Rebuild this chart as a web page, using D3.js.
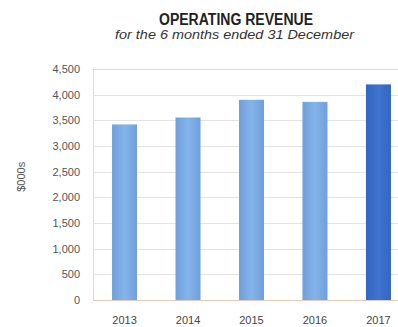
<!DOCTYPE html>
<html>
<head>
<meta charset="utf-8">
<script src="https://cdn.jsdelivr.net/npm/d3@7"></script>
<style>
  body { margin: 0; background: #fff; }
  svg { display: block; }
</style>
</head>
<body>
<svg id="chart" width="398" height="327"></svg>
<script>
const years = ['2013', '2014', '2015', '2016', '2017'];
const revenue = [3420, 3555, 3900, 3860, 4200];
const yTicks = [0, 500, 1000, 1500, 2000, 2500, 3000, 3500, 4000, 4500];

const svg = d3.select('#chart');
const width = 398, height = 327;
const margin = { top: 69, bottom: 27, left: 93 };
const fontFamily = '"Liberation Sans", Arial, sans-serif';

// gradients for the bars
const defs = svg.append('defs');
function addGrad(id, c1, c2) {
  const g = defs.append('linearGradient').attr('id', id)
    .attr('x1', '0%').attr('x2', '100%').attr('y1', '0%').attr('y2', '0%');
  g.append('stop').attr('offset', '0%').attr('stop-color', c1);
  g.append('stop').attr('offset', '50%').attr('stop-color', c2);
  g.append('stop').attr('offset', '100%').attr('stop-color', c1);
}
addGrad('lightBar', '#6f9fdc', '#85b4ea');
addGrad('darkBar', '#3465c2', '#3f74cf');

// title (condensed look via textLength)
svg.append('text')
  .attr('x', 159).attr('y', 24.5)
  .attr('textLength', 154)
  .attr('lengthAdjust', 'spacingAndGlyphs')
  .style('font-family', fontFamily)
  .style('font-size', '16px')
  .style('font-weight', 'bold')
  .style('fill', '#222')
  .text('OPERATING REVENUE');

svg.append('text')
  .attr('x', 115).attr('y', 39)
  .attr('textLength', 239)
  .attr('lengthAdjust', 'spacingAndGlyphs')
  .style('font-family', fontFamily)
  .style('font-size', '12px')
  .style('font-style', 'italic')
  .style('fill', '#333')
  .text('for the 6 months ended 31 December');

const x = d3.scaleBand()
  .domain(years)
  .range([margin.left, 410])
  .paddingInner(0.606)
  .paddingOuter(0.3);

const y = d3.scaleLinear()
  .domain([0, 4500])
  .range([height - margin.bottom, margin.top]);

// plot frame
svg.append('rect')
  .attr('x', margin.left + 0.5).attr('y', margin.top + 0.5)
  .attr('width', width - margin.left + 2)
  .attr('height', y(0) - margin.top)
  .attr('fill', 'none')
  .attr('stroke', '#dcdcdc')
  .attr('stroke-width', 1);

// gridlines
svg.append('g')
  .selectAll('line')
  .data(yTicks.filter(d => d > 0 && d < 4500))
  .join('line')
  .attr('x1', margin.left).attr('x2', width)
  .attr('y1', d => Math.round(y(d)) + 0.5)
  .attr('y2', d => Math.round(y(d)) + 0.5)
  .attr('stroke', '#e3e3e3')
  .attr('stroke-width', 1);

// y tick labels
svg.append('g')
  .selectAll('text')
  .data(yTicks)
  .join('text')
  .attr('x', 80)
  .attr('y', d => y(d))
  .attr('dy', '0.35em')
  .attr('text-anchor', 'end')
  .style('font-family', fontFamily)
  .style('font-size', '11px')
  .style('fill', '#555')
  .text(d => d3.format(',')(d));

// y axis title
svg.append('text')
  .attr('transform', `translate(21,${y(2400)}) rotate(-90)`)
  .attr('text-anchor', 'middle')
  .attr('dy', '0.35em')
  .style('font-family', fontFamily)
  .style('font-size', '11px')
  .style('fill', '#555')
  .text('$000s');

// bars
svg.append('g')
  .selectAll('rect')
  .data(years.map((d, i) => ({ year: d, value: revenue[i] })))
  .join('rect')
  .attr('x', d => x(d.year))
  .attr('y', d => y(d.value))
  .attr('width', x.bandwidth())
  .attr('height', d => y(0) - y(d.value))
  .attr('fill', d => d.year === '2017' ? 'url(#darkBar)' : 'url(#lightBar)');

// baseline
svg.append('line')
  .attr('x1', margin.left).attr('x2', width)
  .attr('y1', y(0) + 0.5).attr('y2', y(0) + 0.5)
  .attr('stroke', '#e8c9b4')
  .attr('stroke-width', 1);

// x labels
svg.append('g')
  .selectAll('text')
  .data(years)
  .join('text')
  .attr('x', d => x(d) + x.bandwidth() / 2)
  .attr('y', 320)
  .attr('dy', '0.35em')
  .attr('text-anchor', 'middle')
  .style('font-family', fontFamily)
  .style('font-size', '11px')
  .style('fill', '#444')
  .text(d => d);
</script>
</body>
</html>
